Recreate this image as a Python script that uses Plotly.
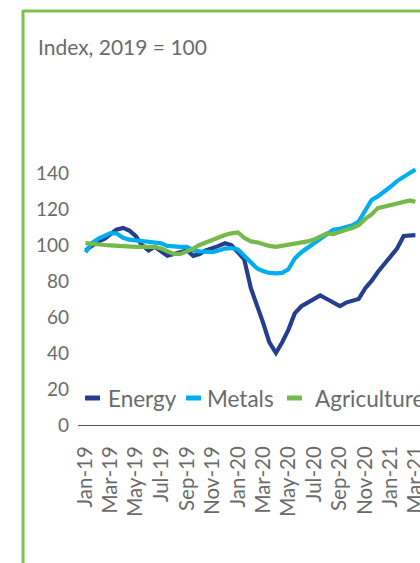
import plotly.graph_objects as go

# ---- data (semi-monthly readings, Jan-19 .. Mar-21) ----
months = ["2019-%02d" % m for m in range(1, 13)] + ["2020-%02d" % m for m in range(1, 13)] + ["2021-01", "2021-02", "2021-03"]
dates = []
for m in months:
    dates.append(m + "-01")
    dates.append(m + "-16")
dates = dates[:-1]  # ends at 2021-03-01

energy = [97, 99.5, 102, 103.5, 105.5, 108.5, 109.5, 108, 105, 100,
          97, 99, 96.5, 94, 95, 96, 97, 94, 95, 97,
          98, 99.5, 101, 100, 96, 92, 76, 67, 57, 46,
          40, 46, 53, 62, 66, 68, 70, 72, 70, 68,
          66, 68, 69, 70, 76, 80, 85, 89, 94, 98,
          105, 105.5, 105.5]
metals = [96, 101, 103.5, 105, 106.5, 106.5, 104, 103, 102.5, 102,
          101.5, 101, 101, 99.5, 99, 99, 99, 97, 96.5, 96,
          96, 97, 98, 98.3, 97.5, 94, 90, 87, 85.5, 84.5,
          84.2, 84.5, 86.5, 92.5, 96, 98.5, 101, 103.5, 106, 108.5,
          109, 110, 111, 113, 119, 125, 127, 129.5, 132.5, 135.5,
          138, 140.5, 142]
agriculture = [101, 100.5, 100, 100, 99.8, 99.5, 99.3, 99, 99, 99,
               99, 99, 98, 96.5, 95, 95, 96.5, 98, 100, 101.5,
               102.5, 104, 105.5, 106.5, 107, 104, 102, 101.5, 100.5, 99.5,
               99, 99.5, 100, 100.8, 101.2, 102, 103, 105, 106.5, 106,
               107.5, 108.5, 109.5, 111, 114.5, 117, 120.5, 121.3, 122.5, 123.3,
               124, 124.8, 124]

series_names = ["Energy", "Metals", "Agriculture"]
series_colors = ["#253F8E", "#00AEEF", "#74B94A"]
series_values = [energy, metals, agriculture]
y_ticks = [0, 20, 40, 60, 80, 100, 120, 140]
title_text = "Index, 2019 = 100"

# ---- layout geometry (figure pixels == screen pixels; body margin removed) ----
W, H = 420, 563
L, R, T, B = 78, 0, 155, 138
PW, PH = W - L - R, H - T - B
def px_x(px):
    return (px - L) / PW
def px_y(py):
    return (H - B - py) / PH

FONT = "Lato"
GREY = "#6b6b6b"

fig = go.Figure()
for name, col, vals in zip(series_names, series_colors, series_values):
    fig.add_trace(go.Scatter(x=dates, y=vals, mode="lines", name=name,
                             line=dict(color=col, width=4.2), showlegend=False))

shapes = [
    dict(type="line", xref="paper", yref="paper", x0=px_x(23), x1=px_x(440), y0=px_y(11), y1=px_y(11),
         line=dict(color="#7DC24F", width=3)),
    dict(type="line", xref="paper", yref="paper", x0=px_x(23), x1=px_x(23), y0=px_y(10), y1=px_y(580),
         line=dict(color="#7DC24F", width=3)),
]
annotations = [
    dict(text=title_text, xref="paper", yref="paper", x=px_x(36), y=px_y(46),
         xanchor="left", yanchor="middle", showarrow=False, font=dict(family=FONT, size=21, color=GREY)),
]
# manual legend
leg_y = px_y(398)
sample_x = [85, 186, 287]
text_x = [106, 205, 313]
for name, col, sx, tx in zip(series_names, series_colors, sample_x, text_x):
    shapes.append(dict(type="line", xref="paper", yref="paper", x0=px_x(sx), x1=px_x(sx + 15),
                       y0=leg_y, y1=leg_y, line=dict(color=col, width=5)))
    annotations.append(dict(text=name, xref="paper", yref="paper", x=px_x(tx), y=leg_y,
                            xanchor="left", yanchor="middle", showarrow=False,
                            font=dict(family=FONT, size=22.5, color=GREY)))

fig.update_layout(
    width=W, height=H,
    margin=dict(l=L, r=R, t=T, b=B, autoexpand=False),
    paper_bgcolor="white", plot_bgcolor="white",
    shapes=shapes, annotations=annotations,
    font=dict(family=FONT, size=20, color=GREY),
    xaxis=dict(type="date", range=["2018-12-14", "2021-03-12"], tick0="2019-01-01", dtick="M2",
               tickformat="%b-%y", tickangle=-90, showgrid=False, zeroline=False,
               showline=True, linecolor="#555555", linewidth=1, ticks="",
               ticklabeloverflow="allow",
               ticklabelstandoff=12, tickfont=dict(family=FONT, size=20.5, color=GREY)),
    yaxis=dict(range=[0, 150], tickvals=y_ticks, showgrid=False, zeroline=False, showline=False,
               ticks="", ticklabelstandoff=8, tickfont=dict(family=FONT, size=19, color=GREY)),
)

fig.write_html("out.html", config={"displayModeBar": False},
               post_script="document.body.style.margin='0';document.body.style.overflow='hidden';")
